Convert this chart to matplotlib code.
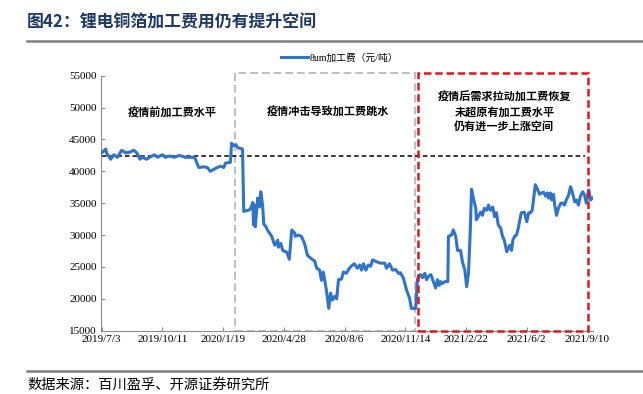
import numpy as np
import pandas as pd
import matplotlib
matplotlib.use("Agg")
import matplotlib.pyplot as plt
from matplotlib.patches import Rectangle

plt.rcParams['font.family'] = ['Noto Sans CJK SC', 'DejaVu Sans']

# days counted from 2019/7/3, values in yuan/ton
days = [0, 7, 8, 15, 20, 26, 33, 40, 46, 53, 58, 63, 67, 74, 79, 87, 92, 100, 105, 112,
        120, 128, 138, 153, 160, 168, 174, 179, 188, 196, 201, 204, 212, 214, 217, 221, 224, 232,
        234, 237, 242, 245, 249, 250, 252, 253, 257, 260, 262, 265, 267, 270, 273, 280, 285,
        290, 291, 295, 298, 305, 309, 313, 318, 319, 324, 329, 334, 339, 344, 351, 354, 359,
        362, 365, 370, 374, 377, 380, 384, 387, 390, 395, 398, 403, 408, 413, 416, 421, 425,
        428, 431, 435, 439, 443, 446, 453, 459, 466, 469, 474, 479, 484, 489, 492, 497, 502,
        507, 510, 517, 520, 522, 525, 528, 532, 535, 538, 542, 545, 550, 553, 556, 558, 561,
        565, 570, 571, 576, 579, 583, 586, 591, 594, 598, 601, 604, 607, 609, 612, 616, 617,
        621, 624, 627, 630, 634, 637, 640, 644, 647, 650, 653, 657, 660, 663, 667, 670, 672,
        675, 677, 680, 683, 686, 690, 691, 696, 700, 703, 706, 709, 711, 714, 718, 721, 724,
        728, 731, 734, 736, 739, 741, 744, 746, 749, 752, 756, 759, 762, 765, 769, 772, 775,
        779, 782, 785, 788, 792, 795, 798, 802, 805, 808]
fee = [42900, 43500, 42900, 41900, 42600, 42200, 43300, 42900, 43000, 43300, 42900, 41900,
       42200, 41900, 42200, 42600, 42200, 42600, 42200, 42400, 42200, 42500, 42200, 42200,
       40600, 40700, 40600, 40000, 40500, 40800, 40600, 41300, 41400, 44400, 44000, 44200,
       43700, 43500, 33700, 33800, 33900, 34100, 35100, 31600, 34700, 31300, 35800, 34400,
       36800, 34700, 31700, 31400, 30800, 29800, 28400, 29200, 28100, 28700, 27600, 27300,
       26200, 30800, 30300, 29800, 30000, 29800, 28700, 26800, 26400, 25900, 24800, 24500,
       22900, 24200, 21400, 18500, 20900, 19800, 20400, 20000, 23000, 23100, 24200, 24000,
       24800, 25300, 25500, 24800, 25300, 24500, 25500, 24500, 25300, 25100, 26100, 25800,
       25600, 25600, 24800, 25500, 24500, 24600, 24000, 24100, 23200, 21400, 20100, 18500,
       18500, 23000, 23600, 23800, 23300, 24000, 23000, 23500, 23800, 23000, 21700, 23000,
       22100, 22700, 22400, 22700, 22700, 29800, 30000, 30800, 29800, 27600, 27600, 25800,
       24500, 21900, 24000, 30800, 37200, 35800, 34200, 32400, 33100, 33600, 33100, 34200,
       33900, 34700, 33900, 34400, 32900, 33500, 31600, 31100, 29800, 29200, 27400, 28000,
       28400, 27600, 29200, 29800, 30000, 31100, 33100, 33500, 33600, 32100, 33500, 33500,
       33900, 35500, 37900, 37100, 36400, 36600, 36700, 36100, 36600, 35800, 36600, 35500,
       36400, 34700, 33100, 34200, 35000, 35000, 34700, 35500, 36300, 37600, 36700, 35200,
       35500, 34700, 36000, 36800, 36300, 35000, 37100, 35500, 35800]

tick_labels = ["2019/7/3", "2019/10/11", "2020/1/19", "2020/4/28", "2020/8/6",
               "2020/11/14", "2021/2/22", "2021/6/2", "2021/9/10"]
pre_level = 42400

base = pd.Timestamp("2019-07-03")
dates = base + pd.to_timedelta(days, unit="D")
ticks = pd.to_datetime(tick_labels, format="%Y/%m/%d")

fig = plt.figure(figsize=(6.43, 3.94), dpi=100)
ax = fig.add_axes([101/643, 1-330.7/394, 492/643, 255/394])

ax.plot(dates, fee, color="#2F74C9", lw=2.2, label="8um加工费（元/吨）", zorder=3)
ax.hlines(pre_level, base, pd.Timestamp("2021-09-06"), colors="black",
          linestyles=(0, (3, 2)), lw=1.1, zorder=2)

ax.set_xlim(base - pd.Timedelta(days=1), base + pd.Timedelta(days=809))
ax.set_ylim(15000, 55000)
ax.set_yticks(np.arange(15000, 55001, 5000))
ax.set_xticks(ticks)
ax.set_xticklabels(tick_labels)
for s in ["top", "right"]:
    ax.spines[s].set_visible(False)
for s in ["left", "bottom"]:
    ax.spines[s].set_color("#8C8C8C")
ax.tick_params(direction="in", length=3, color="#8C8C8C", labelsize=8, pad=3)
for lab in ax.get_xticklabels() + ax.get_yticklabels():
    lab.set_family("Liberation Serif")

# the three phase boxes
g0, g1 = pd.Timestamp("2020-02-08"), pd.Timestamp("2020-11-30")
r0, r1 = pd.Timestamp("2020-12-05"), pd.Timestamp("2021-09-11")
ax.add_patch(Rectangle((g0, 15000), g1 - g0, 40400, fill=False, ec="#BFBFBF",
                       lw=1.4, ls=(0, (4, 2)), clip_on=False, zorder=1))
ax.add_patch(Rectangle((r0, 15000), r1 - r0, 40400, fill=False, ec="#E0161B",
                       lw=1.8, ls=(0, (3, 1.5)), clip_on=False, zorder=4))

ax.text(base + pd.Timedelta(days=117), 49100, "疫情前加工费水平", ha="center",
        va="center", fontsize=8, weight="bold")
ax.text(base + pd.Timedelta(days=372), 49300, "疫情冲击导致加工费跳水", ha="center",
        va="center", fontsize=8, weight="bold")
ax.text(base + pd.Timedelta(days=663), 49200,
        "疫情后需求拉动加工费恢复\n未超原有加工费水平\n仍有进一步上涨空间",
        ha="center", va="center", fontsize=8, weight="bold", linespacing=1.2)

fig.legend(loc="center", bbox_to_anchor=(0.528, 0.853), frameon=False,
           handlelength=2.8, handletextpad=0.2,
           prop={"family": ["Liberation Serif", "Noto Sans CJK SC"], "size": 7})

fig.text(27/643, 1-22/394, "图42：锂电铜箔加工费用仍有提升空间", fontsize=12.2,
         weight="bold", color="#1F3A66", va="center", ha="left")
fig.add_artist(plt.Line2D([27/643, 1], [1-41/394, 1-41/394], color="#7F7F7F", lw=1.8))
fig.add_artist(plt.Line2D([27/643, 1], [1-371/394, 1-371/394], color="#7F7F7F", lw=1.8))
fig.text(27/643, 1-385/394, "数据来源：百川盈孚、开源证券研究所", fontsize=10.3,
         va="center", ha="left")

fig.savefig("out.png", dpi=100)
